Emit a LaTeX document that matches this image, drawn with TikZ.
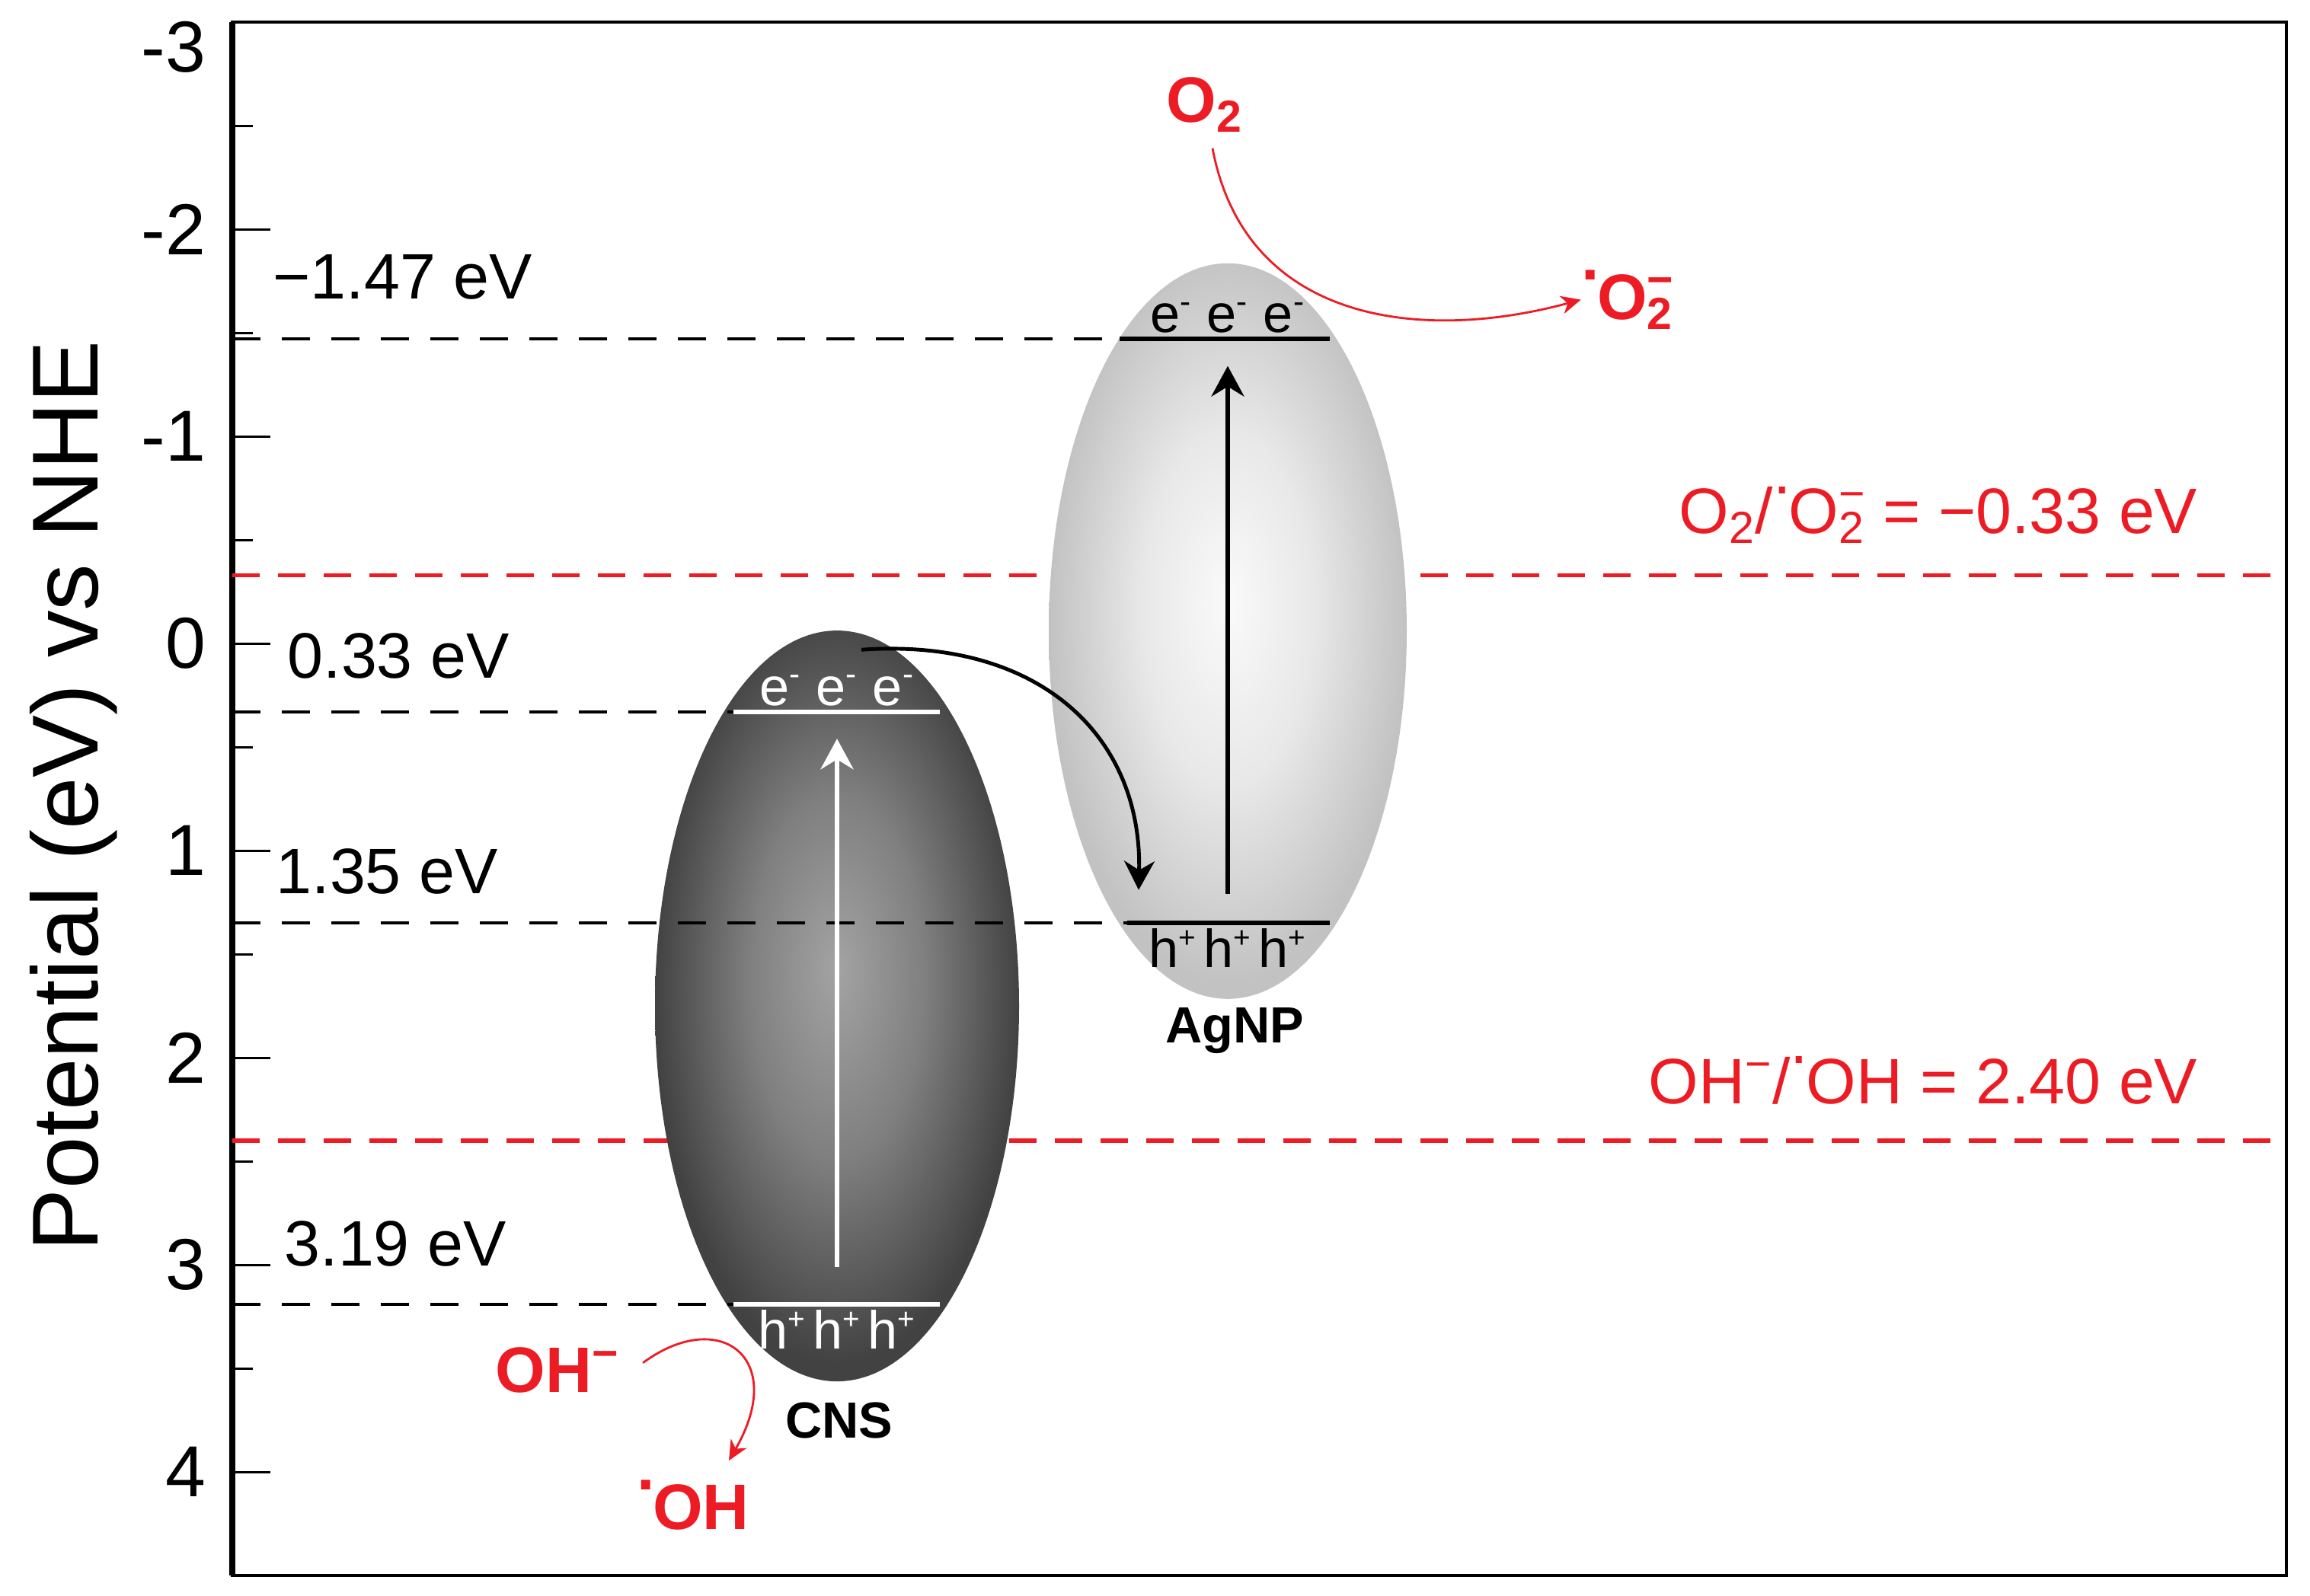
\documentclass[tikz,border=0pt]{standalone}
\usepackage{fontspec}
\setmainfont{Liberation Sans}
\usepackage{xcolor}
\usepackage{tikz}
\usetikzlibrary{arrows.meta, shapes.geometric}

\definecolor{rxred}{RGB}{237,28,36}
\pgfdeclareradialshading{cnsglow}{\pgfpoint{0bp}{2.5bp}}{%
  color(0bp)=(black!36); color(12bp)=(black!50); color(25bp)=(black!74); color(50bp)=(black!74)}
\pgfdeclareradialshading{agglow}{\pgfpoint{0bp}{2bp}}{%
  color(0bp)=(black!2); color(12bp)=(black!9); color(25bp)=(black!24); color(50bp)=(black!24)}
\newcommand{\rdot}{\raisebox{0.62em}{.}\kern-0.03em}
\newcommand{\ionsub}[2]{\makebox[0pt][l]{\textsuperscript{#1}}\textsubscript{#2}}
\newcommand{\hole}{h\textsuperscript{\fontsize{11}{11}\selectfont+}}
\newcommand{\elec}{e\textsuperscript{\fontsize{12}{12}\selectfont-}}

\begin{document}
\begin{tikzpicture}[x=1cm, y=-2.72cm,
    ticklbl/.style={anchor=east, inner sep=0pt, font=\fontsize{27}{30}\selectfont},
    lvllbl/.style={anchor=west, inner sep=0pt, font=\fontsize{24}{28}\selectfont},
    redoxlbl/.style={anchor=east, inner sep=0pt, text=rxred, font=\fontsize{24}{28}\selectfont},
    species/.style={inner sep=0pt, text=rxred, font=\bfseries\fontsize{24}{28}\selectfont},
    semilbl/.style={inner sep=0pt, font=\bfseries\fontsize{19}{22}\selectfont},
    carrier/.style={inner sep=2pt, font=\fontsize{20}{24}\selectfont},
    blob/.style={ellipse, inner sep=0pt},
    lvl/.style={dash pattern=on 0.37cm off 0.28cm, line width=1.1pt},
    redox/.style={rxred, dash pattern=on 0.36cm off 0.24cm, line width=1.6pt},
    band/.style={line width=1.8pt},
    excite/.style={-{Stealth[length=4mm, width=4.3mm, inset=1.3mm]}, line width=1.6pt},
    transfer/.style={-{Stealth[length=3.8mm, width=4mm, inset=1.2mm]}, line width=1.4pt},
    rxarr/.style={rxred, -{Stealth[length=2.6mm, width=2.4mm, inset=0.8mm]}, line width=0.8pt}
  ]
  \useasboundingbox (-3.05,-3.107) rectangle (27.28,4.596);

  % axis
  \draw[line width=1pt] (0,-3) rectangle (26.97,4.5);
  \draw[line width=2pt] (0,-3) -- (0,4.5);
  \foreach \v in {-2,...,4} \draw[line width=0.9pt] (0,\v) -- ++(0.5,0);
  \foreach \v in {-2.5,-1.5,...,3.5} \draw[line width=0.9pt] (0,\v) -- ++(0.27,0);
  \node[ticklbl] (tk-3) at (-0.34,-2.88) {-3};
  \foreach \v in {-2,...,4} \node[ticklbl] (tk\v) at (-0.34,\v) {\v};
  \node[rotate=90, font=\fontsize{35}{40}\selectfont] (ylab) at (-2.08,0.735) {Potential (eV) vs NHE};

  % redox potentials
  \draw[redox] (0,-0.33) -- (26.97,-0.33);
  \draw[redox] (0,2.40) -- (26.97,2.40);
  \node[redoxlbl] (o2pot) at (25.81,-0.62) {O\textsubscript{2}/\rdot O\ionsub{−}{2} = −0.33 eV};
  \node[redoxlbl] (ohpot) at (25.81,2.11) {OH\textsuperscript{−}/\rdot OH = 2.40 eV};

  % semiconductors
  \node[blob, minimum width=4.78cm, minimum height=9.86cm, shading=cnsglow] (cns) at (7.94,1.75) {};
  \node[blob, minimum width=4.70cm, minimum height=9.66cm, shading=agglow] (agnp) at (13.07,-0.06) {};

  % band edges
  \draw[lvl] (0,0.33) -- (6.58,0.33);
  \draw[lvl] (0,3.19) -- (6.58,3.19);
  \draw[lvl] (0,-1.47) -- (11.65,-1.47);
  \draw[lvl] (0,1.35) -- (11.75,1.35);
  \draw[band, white] (6.58,0.33) -- (9.29,0.33);
  \draw[band, white] (6.58,3.19) -- (9.29,3.19);
  \draw[band] (11.65,-1.47) -- (14.41,-1.47);
  \draw[band] (11.75,1.35) -- (14.41,1.35);

  \node[lvllbl] (cbagl) at (0.53,-1.77) {−1.47 eV};
  \node[lvllbl] (cbcnsl) at (0.72,0.06) {0.33 eV};
  \node[lvllbl] (vbagl) at (0.57,1.10) {1.35 eV};
  \node[lvllbl] (vbcnsl) at (0.68,2.90) {3.19 eV};

  \node[carrier, white, anchor=south] (cnse) at (7.94,0.33) {\elec\ \elec\ \elec};
  \node[carrier, white, anchor=north] (cnsh) at (7.94,3.19) {\hole\kern0.12em\hole\kern0.12em\hole};
  \node[carrier, anchor=south] (age) at (13.07,-1.47) {\elec\ \elec\ \elec};
  \node[carrier, anchor=north] (agh) at (13.07,1.35) {\hole\kern0.12em\hole\kern0.12em\hole};

  \node[semilbl] (cnsname) at (7.97,3.75) {CNS};
  \node[semilbl] (agname) at (13.16,1.87) {AgNP};

  % excitation and transfer
  \coordinate (cnsvb) at (7.94,3.01);
  \coordinate (cnscb) at (7.94,0.46);
  \coordinate (agvb) at (13.07,1.21);
  \coordinate (agcb) at (13.07,-1.34);
  \draw[excite, white] (cnsvb) -- (cnscb);
  \draw[excite] (agvb) -- (agcb);
  \coordinate (hopout) at (8.26,0.03);
  \coordinate (hopin) at (11.90,1.19);
  \draw[transfer] (hopout) .. controls (10.6,-0.03) and (11.95,0.45) .. (hopin);

  % radicals
  \node[species] (o2) at (12.77,-2.60) {O\textsubscript{2}};
  \node[species] (o2rad) at (18.32,-1.66) {\rdot O\ionsub{−}{2}};
  \node[species] (oh) at (4.27,3.51) {OH\textsuperscript{−}};
  \node[species] (ohrad) at (6.05,4.16) {\rdot OH};
  \coordinate (ohin) at (6.52,3.945);
  \draw[rxarr] ([xshift=1mm, yshift=-2mm]o2.south) .. controls (13.3,-1.55) and (15.6,-1.45) .. (o2rad.west);
  \draw[rxarr] ([xshift=3mm, yshift=1mm]oh.east) .. controls (6.4,3.2) and (7.3,3.45) .. (ohin);
\end{tikzpicture}
\end{document}
